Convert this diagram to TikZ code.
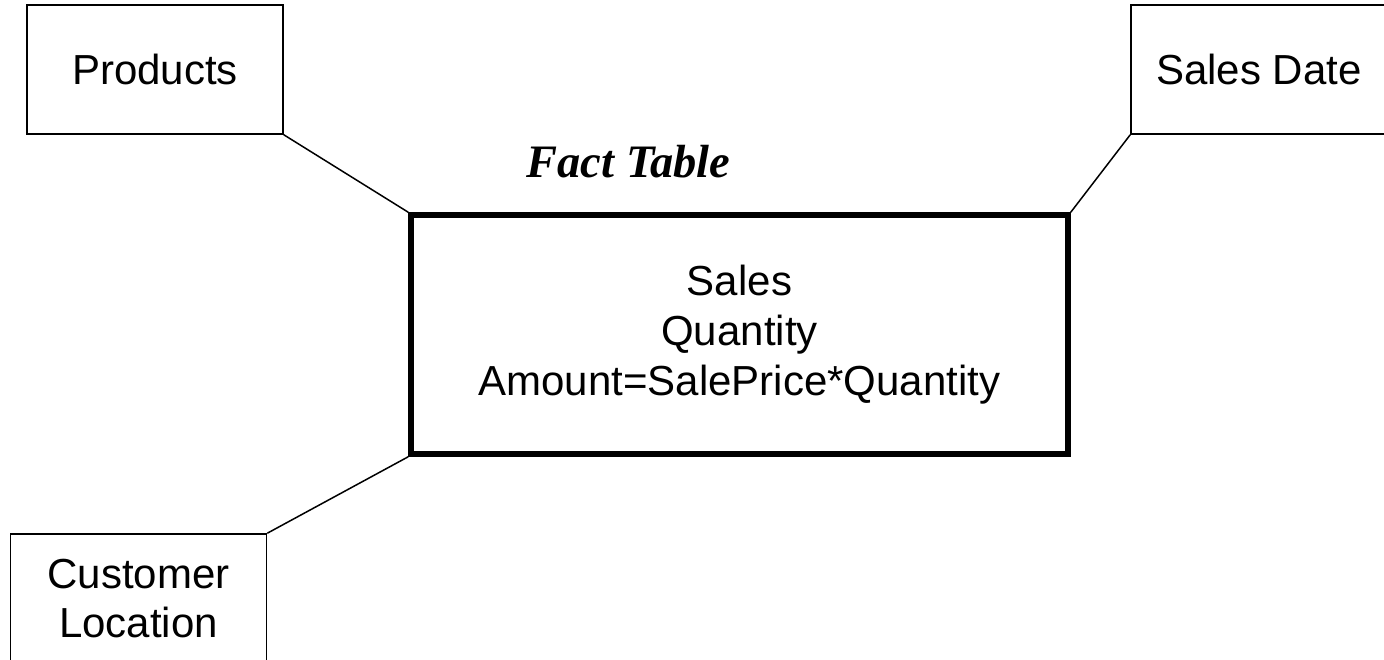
\documentclass[tikz,border=0pt]{standalone}
\usepackage{fontspec}
\setmainfont{Liberation Sans}
\newfontfamily\factfont{Liberation Serif}
\usepackage{tikz}

\begin{document}
\begin{tikzpicture}[x=1pt,y=-1pt,
    dimbox/.style={draw,line width=1.5pt,minimum width=256pt,minimum height=129pt,
      align=center,font=\fontsize{42}{49}\selectfont},
    factbox/.style={draw,line width=5.5pt,minimum width=657pt,minimum height=239pt,
      align=center,font=\fontsize{42}{50}\selectfont}]

  \useasboundingbox (0,0) rectangle (1384,660);

  \node[factbox] (fact) at (739.5,334.5) {Sales\\Quantity\\Amount=SalePrice*Quantity};
  \node[font=\factfont\bfseries\itshape\fontsize{46.5}{50}\selectfont] (title) at (628.5,162) {Fact Table};

  \node[dimbox] (prod) at (155,69.5) {Products};
  \node[dimbox] (date) at (1259,69.5) {Sales Date};
  \node[dimbox] (cust) at (138.5,598.5) {Customer\\Location};

  \draw[line width=1.5pt] (prod.south east) -- (fact.north west);
  \draw[line width=1.5pt] (date.south west) -- (fact.north east);
  \draw[line width=1.5pt] (fact.south west) -- (cust.north east);

\end{tikzpicture}
\end{document}
